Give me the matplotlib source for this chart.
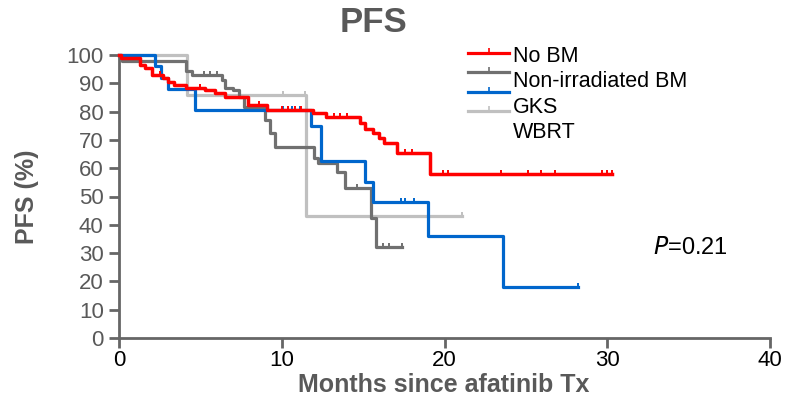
import numpy as np
import matplotlib.pyplot as plt
from matplotlib.lines import Line2D

plt.rcParams['font.family'] = ['Liberation Sans', 'DejaVu Sans']

# step curves: event times (months) and survival (%) after each event
nobm_t = [0, 0.1, 1.3, 1.6, 2.0, 2.7, 3.0, 3.4, 4.1, 5.3, 5.9, 6.5, 7.9, 9.1,
          11.9, 12.7, 14.8, 15.1, 15.6, 16.0, 16.3, 17.1, 19.1]
nobm_s = [100, 99, 96.5, 95.4, 93, 92, 90.5, 89.4, 88.3, 87.6, 86.6, 85.2, 82.3, 80.5,
          79.5, 78, 76, 74, 72.5, 70.5, 69, 65.5, 58]
nobm_end = 30.3
nobm_cens = [2.5, 5.0, 8.6, 10.0, 10.4, 10.8, 11.2, 13.2, 13.6, 14.0, 17.6, 18.0,
             19.9, 20.2, 23.5, 25.1, 25.9, 26.8, 29.7, 30.0, 30.3]

nirr_t = [0, 0.2, 4.1, 4.5, 6.3, 6.5, 7.0, 7.4, 7.7, 9.0, 9.3, 9.6, 12.0, 12.2,
          13.4, 13.9, 15.5, 15.8]
nirr_s = [100, 97.8, 94.5, 93, 91, 88.5, 87.5, 85, 81.5, 77, 72.5, 67.5, 63.5, 62,
          58.5, 53, 42.5, 32]
nirr_end = 17.4
nirr_cens = [5.2, 5.6, 6.0, 12.0, 14.6, 16.2, 16.6, 17.4]

gks_t = [0, 2.2, 2.6, 3.0, 4.7, 11.8, 12.4, 15.1, 15.6, 19.0, 23.6]
gks_s = [100, 96, 92, 88, 80.5, 75, 62.5, 55, 48, 36, 18]
gks_end = 28.2
gks_cens = [10.1, 10.6, 11.1, 17.3, 17.6, 18.1, 28.2]

wbrt_t = [0, 4.2, 11.5]
wbrt_s = [100, 86, 43]
wbrt_end = 21.1
wbrt_cens = [10.1, 11.4, 21.1]

labels = ['No BM', 'Non-irradiated BM', 'GKS', 'WBRT']
colors = ['#ff0000', '#707070', '#0066cc', '#c0c0c0']


def surv_at(t, s, x):
    i = np.searchsorted(t, x, side='right') - 1
    return np.array(s)[i]


W, H = 788, 398
fig = plt.figure(figsize=(W / 100, H / 100), dpi=100)
ax = fig.add_axes([119 / W, 1 - 338 / H, 651 / W, 283 / H])

series = [(wbrt_t, wbrt_s, wbrt_end, wbrt_cens, colors[3], 2.3),
          (nirr_t, nirr_s, nirr_end, nirr_cens, colors[1], 2.3),
          (gks_t, gks_s, gks_end, gks_cens, colors[2], 2.3),
          (nobm_t, nobm_s, nobm_end, nobm_cens, colors[0], 2.5)]
for t, s, end, cens, c, lw in series:
    tt = list(t) + [end]
    ss = list(s) + [s[-1]]
    ax.step(tt, ss, where='post', color=c, lw=lw, clip_on=False, zorder=3)
    ax.plot(cens, surv_at(t, s, cens), ls='none', marker=2, ms=3, mew=1.4,
            color=c, clip_on=False, zorder=3)

# legend drawn by hand: line keys and labels are offset as in the reference
for i, c in enumerate(colors):
    y = 1 - (52.7 + 19.4 * i) / H
    fig.add_artist(Line2D([468 / W, 509 / W], [y, y], color=c, lw=2.3,
                          transform=fig.transFigure))
    fig.add_artist(Line2D([489 / W], [y], color=c, marker=2, ms=3.5, mew=1.2,
                          transform=fig.transFigure))
for i, lab in enumerate(labels):
    y = 1 - (56.5 + 25.3 * i) / H
    fig.text(513 / W, y, lab, fontsize=15.5, va='center', ha='left')

ax.text(35.1, 31.8, r'$\it{P}$=0.21', fontsize=17, ha='center', va='center')
fig.text(373 / W, 1 - 22 / H, 'PFS', ha='center', va='center',
         fontsize=25, fontweight='bold', color='#595959')

ax.set_xlim(0, 40)
ax.set_ylim(0, 100)
ax.set_xticks([0, 10, 20, 30, 40])
ax.set_yticks(range(0, 101, 10))
fig.text(444 / W, 1 - 392 / H, 'Months since afatinib Tx', fontsize=18,
         fontweight='bold', color='#595959', ha='center', va='baseline')
ax.set_ylabel('PFS (%)', fontsize=18, fontweight='bold', color='#595959',
              labelpad=20)
for sp in ['top', 'right']:
    ax.spines[sp].set_visible(False)
for sp in ['left', 'bottom']:
    ax.spines[sp].set_color('#666666')
    ax.spines[sp].set_linewidth(2)
ax.tick_params(axis='both', colors='#666666', width=2, length=7,
               labelsize=16, labelcolor='#595959', pad=4)
ax.tick_params(axis='x', labelcolor='black', pad=2)

fig.savefig('out.png', dpi=100)
